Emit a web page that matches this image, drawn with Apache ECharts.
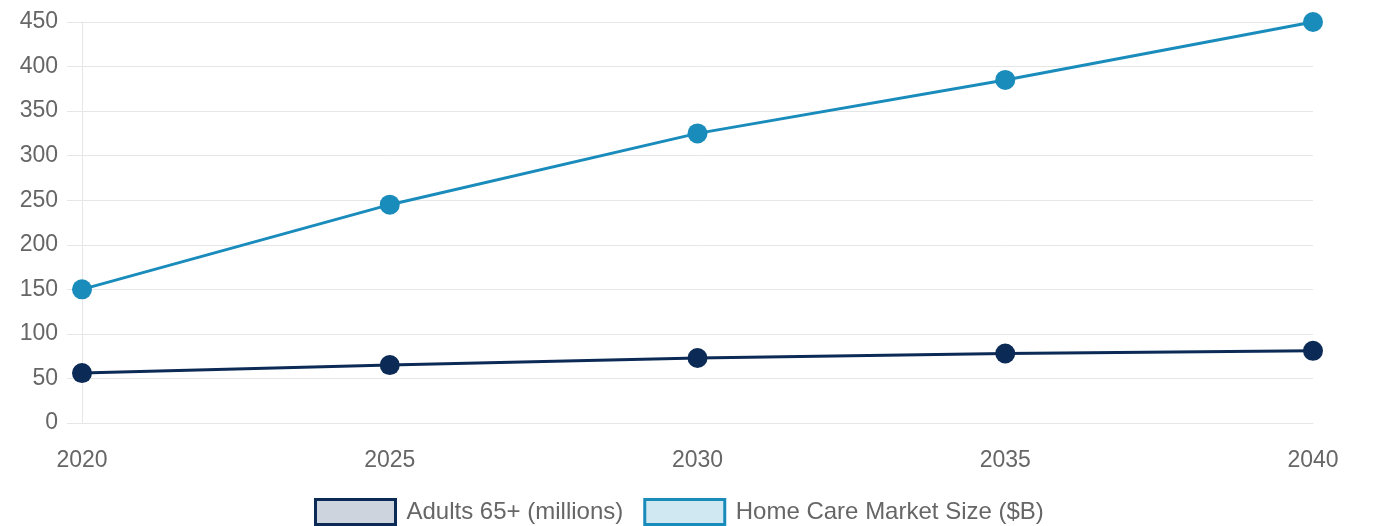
<!DOCTYPE html>
<html>
<head>
<meta charset="utf-8">
<script src="https://cdn.jsdelivr.net/npm/echarts@6/dist/echarts.min.js"></script>
<style>
html,body{margin:0;padding:0;background:#fff;}
#chart{width:1373px;height:526px;}
</style>
</head>
<body>
<div id="chart"></div>
<script>
const years = ['2020', '2025', '2030', '2035', '2040'];
const adults65 = [56, 65, 73, 78, 81];
const homeCareMarket = [150, 245, 325, 385, 450];
const seriesNames = ['Adults 65+ (millions)', 'Home Care Market Size ($B)'];
const yTicks = { min: 0, max: 450, interval: 50 };

const FONT = '"Liberation Sans", Arial, Helvetica, sans-serif';
const TXT = '#666';
const GRID = '#e6e6e6';
const navy = '#0b2a55';
const teal = '#1a8cbc';

const chart = echarts.init(document.getElementById('chart'), null, { renderer: 'canvas' });
chart.setOption({
  animation: false,
  backgroundColor: '#fff',
  textStyle: { fontFamily: FONT },
  grid: { left: 82, right: 60, top: 22, bottom: 103, containLabel: false },
  legend: {
    top: 498,
    left: 314,
    padding: 0,
    icon: 'rect',
    itemWidth: 80,
    itemHeight: 25,
    itemGap: 20,
    textStyle: { fontFamily: FONT, fontSize: 24, color: TXT, padding: [0, 0, 0, 6] },
    data: [
      { name: seriesNames[0], itemStyle: { color: '#ced4de', borderColor: navy, borderWidth: 3 } },
      { name: seriesNames[1], itemStyle: { color: '#d0e8f2', borderColor: teal, borderWidth: 3 } }
    ]
  },
  xAxis: {
    type: 'category',
    data: years,
    boundaryGap: false,
    axisLine: { show: true, lineStyle: { color: GRID, width: 1 } },
    axisTick: { show: false },
    axisLabel: { color: TXT, fontSize: 23, fontFamily: FONT, margin: 26 },
    splitLine: { show: false }
  },
  yAxis: {
    type: 'value',
    min: yTicks.min,
    max: yTicks.max,
    interval: yTicks.interval,
    axisLine: { show: true, lineStyle: { color: GRID, width: 1 } },
    axisTick: { show: true, length: 15, lineStyle: { color: GRID, width: 1 } },
    axisLabel: { color: TXT, fontSize: 23, fontFamily: FONT, margin: 24 },
    splitLine: { show: true, lineStyle: { color: GRID, width: 1 } }
  },
  series: [
    {
      name: seriesNames[0],
      type: 'line',
      data: adults65,
      symbol: 'circle',
      symbolSize: 20,
      lineStyle: { color: navy, width: 3 },
      itemStyle: { color: navy, borderWidth: 0 },
      emphasis: { disabled: true },
      z: 3
    },
    {
      name: seriesNames[1],
      type: 'line',
      data: homeCareMarket,
      symbol: 'circle',
      symbolSize: 20,
      lineStyle: { color: teal, width: 3 },
      itemStyle: { color: teal, borderWidth: 0 },
      emphasis: { disabled: true },
      z: 2
    }
  ]
});
</script>
</body>
</html>
